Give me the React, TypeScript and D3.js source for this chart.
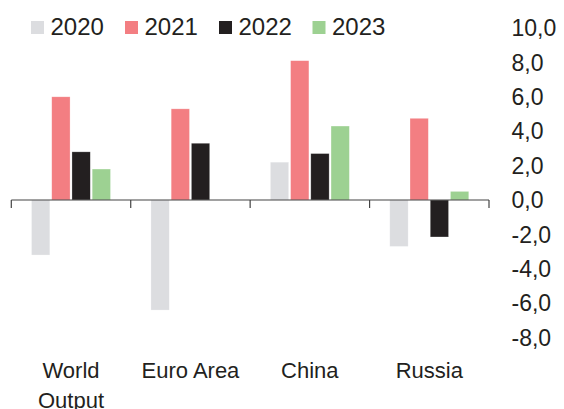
import React from "react";
import * as d3 from "d3";

const categories = ["World Output", "Euro Area", "China", "Russia"];
const years = ["2020", "2021", "2022", "2023"];
const values2020 = [-3.2, -6.4, 2.2, -2.7];
const values2021 = [6.0, 5.3, 8.1, 4.75];
const values2022 = [2.8, 3.3, 2.7, -2.15];
const values2023 = [1.8, null, 4.3, 0.5];
const yTicks = [10, 8, 6, 4, 2, 0, -2, -4, -6, -8];
const colors = ["#dcdde0", "#f37e82", "#231f20", "#9dd192"];

const series = [values2020, values2021, values2022, values2023];

const W = 564;
const H = 409;
const FONT = "'Liberation Sans', Arial, sans-serif";
const TEXT = "#231f20";

const locale = d3.formatLocale({
  decimal: ",",
  thousands: ".",
  grouping: [3],
  currency: ["", ""],
  minus: "-",
});
const fmt = locale.format(".1f");

export default function App() {
  const y = d3.scaleLinear().domain([-8, 10]).range([337.6, 28]);
  const x0 = d3.scaleBand<string>().domain(categories).range([11.3, 489]).padding(0);
  const x1 = d3
    .scaleBand<string>()
    .domain(years)
    .range([0, x0.bandwidth()])
    .paddingInner(0.094)
    .paddingOuter(1.0);
  const zero = y(0);
  const boundaries = [...categories.map((c) => x0(c) as number), 489];

  const legendX = [31, 125, 219, 312.5];

  return (
    <svg
      width={W}
      height={H}
      style={{ position: "absolute", left: 0, top: 0, background: "#fff" }}
      fontFamily={FONT}
    >
      {/* legend */}
      {years.map((yr, i) => (
        <g key={yr}>
          <rect x={legendX[i]} y={21} width={13} height={13} fill={colors[i]} />
          <text x={legendX[i] + 19.5} y={35} fontSize={24} fill={TEXT}>
            {yr}
          </text>
        </g>
      ))}

      {/* bars */}
      {categories.map((cat, ci) => (
        <g key={cat} transform={`translate(${x0(cat)},0)`}>
          {series.map((s, si) => {
            const v = s[ci];
            if (v === null || v === undefined) return null;
            const yv = y(v);
            return (
              <rect
                key={si}
                x={x1(years[si])}
                y={Math.min(yv, zero)}
                width={x1.bandwidth()}
                height={Math.abs(yv - zero)}
                fill={colors[si]}
                stroke="#ffffff"
                strokeOpacity={0.45}
                strokeWidth={0.6}
              />
            );
          })}
        </g>
      ))}

      {/* x axis */}
      <line x1={11.3} x2={489} y1={zero} y2={zero} stroke="#444" strokeWidth={1.2} />
      {boundaries.map((bx, i) => (
        <line key={i} x1={bx} x2={bx} y1={zero} y2={zero + 8} stroke="#444" strokeWidth={1.2} />
      ))}

      {/* y tick labels */}
      {yTicks.map((t) => (
        <text
          key={t}
          x={511.5}
          y={y(t)}
          dy="0.36em"
          fontSize={23}
          fill={TEXT}
          textAnchor="start"
        >
          {fmt(t)}
        </text>
      ))}

      {/* category labels */}
      {categories.map((cat) => {
        const cx = (x0(cat) as number) + x0.bandwidth() / 2;
        const words = cat === "World Output" ? ["World", "Output"] : [cat];
        return (
          <text key={cat} x={cx} y={378} fontSize={22} fill={TEXT} textAnchor="middle">
            {words.map((w, i) => (
              <tspan key={i} x={cx} dy={i === 0 ? 0 : 29.5}>
                {w}
              </tspan>
            ))}
          </text>
        );
      })}
    </svg>
  );
}
